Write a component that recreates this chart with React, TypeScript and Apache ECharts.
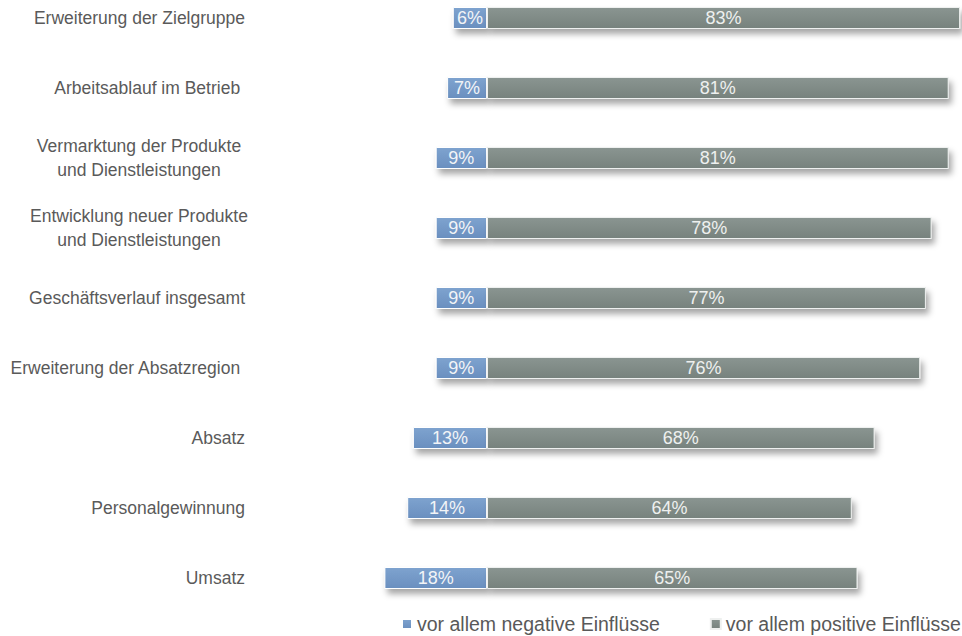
import React, { useEffect, useRef } from "react";
import * as echarts from "echarts";

const categories = [
  "Erweiterung der Zielgruppe",
  "Arbeitsablauf im Betrieb ",
  "Vermarktung der Produkte\nund Dienstleistungen",
  "Entwicklung neuer Produkte\nund Dienstleistungen",
  "Geschäftsverlauf insgesamt",
  "Erweiterung der Absatzregion ",
  "Absatz",
  "Personalgewinnung",
  "Umsatz",
];
const negativeValues = [6, 7, 9, 9, 9, 9, 13, 14, 18];
const positiveValues = [83, 81, 81, 78, 77, 76, 68, 64, 65];
const seriesNames = ["vor allem negative Einflüsse", "vor allem positive Einflüsse"];

const FONT = "'Liberation Sans', Arial, sans-serif";

export default function App() {
  const ref = useRef<HTMLDivElement>(null);
  useEffect(() => {
    if (!ref.current) return;
    const chart = echarts.init(ref.current, null, { renderer: "svg" });
    const s = 5.7;
    const zeroX = 487;
    const minV = -20;
    const maxV = 83;
    const blue = new echarts.graphic.LinearGradient(0, 0, 0, 1, [
      { offset: 0, color: "#7ea3cf" },
      { offset: 1, color: "#6a8fbf" },
    ]);
    const gray = new echarts.graphic.LinearGradient(0, 0, 0, 1, [
      { offset: 0, color: "#8a9591" },
      { offset: 1, color: "#77827d" },
    ]);
    const labelFormatter = (p: any) => Math.abs(p.value) + "%";
    chart.setOption({
      animation: false,
      textStyle: { fontFamily: FONT },
      grid: {
        left: zeroX + minV * s,
        width: (maxV - minV) * s,
        top: -17,
        height: 630,
        containLabel: false,
        outerBoundsMode: "none",
      },
      xAxis: {
        type: "value",
        min: minV,
        max: maxV,
        show: false,
      },
      yAxis: {
        type: "category",
        data: categories,
        inverse: true,
        axisLine: { show: false },
        axisTick: { show: false },
        axisLabel: {
          margin: 128,
          color: "#5a5a5a",
          fontSize: 17.5,
          fontFamily: FONT,
          align: "right",
          formatter: (v: string) => {
            if (v.indexOf("\n") >= 0) {
              return v
                .split("\n")
                .map((l) => "{c|" + l + "}")
                .join("\n");
            }
            return v;
          },
          rich: {
            c: {
              width: 212,
              align: "center",
              fontSize: 17.5,
              color: "#5a5a5a",
              fontFamily: FONT,
              lineHeight: 24,
            },
          },
        },
      },
      legend: {
        data: seriesNames,
        left: 401,
        top: 614,
        width: 700,
        padding: 0,
        icon: "rect",
        itemWidth: 10,
        itemHeight: 10,
        itemGap: 50,
        textStyle: { fontSize: 19.5, color: "#595959", fontFamily: FONT },
      },
      series: [
        {
          name: seriesNames[0],
          type: "bar",
          stack: "total",
          barWidth: 22,
          data: negativeValues.map((v) => -v),
          itemStyle: {
            color: blue,
            borderColor: "#ffffff",
            borderWidth: 1,
            shadowBlur: 6,
            shadowOffsetX: 3,
            shadowOffsetY: 5,
            shadowColor: "rgba(0,0,0,0.35)",
          },
          label: {
            show: true,
            position: "inside",
            formatter: labelFormatter,
            color: "#f2f4f7",
            fontSize: 18,
            fontFamily: FONT,
          },
        },
        {
          name: seriesNames[1],
          type: "bar",
          stack: "total",
          barWidth: 22,
          data: positiveValues,
          itemStyle: {
            color: gray,
            borderColor: "#eef0ef",
            borderWidth: 1,
            shadowBlur: 6,
            shadowOffsetX: 3,
            shadowOffsetY: 5,
            shadowColor: "rgba(0,0,0,0.35)",
          },
          label: {
            show: true,
            position: "inside",
            formatter: labelFormatter,
            color: "#eef0ef",
            fontSize: 18,
            fontFamily: FONT,
          },
        },
      ],
      color: ["#7097c6", "#8a9591"],
    });
    return () => chart.dispose();
  }, []);
  return (
    <div
      ref={ref}
      style={{ width: 962, height: 636, position: "absolute", left: 0, top: 0 }}
    />
  );
}
